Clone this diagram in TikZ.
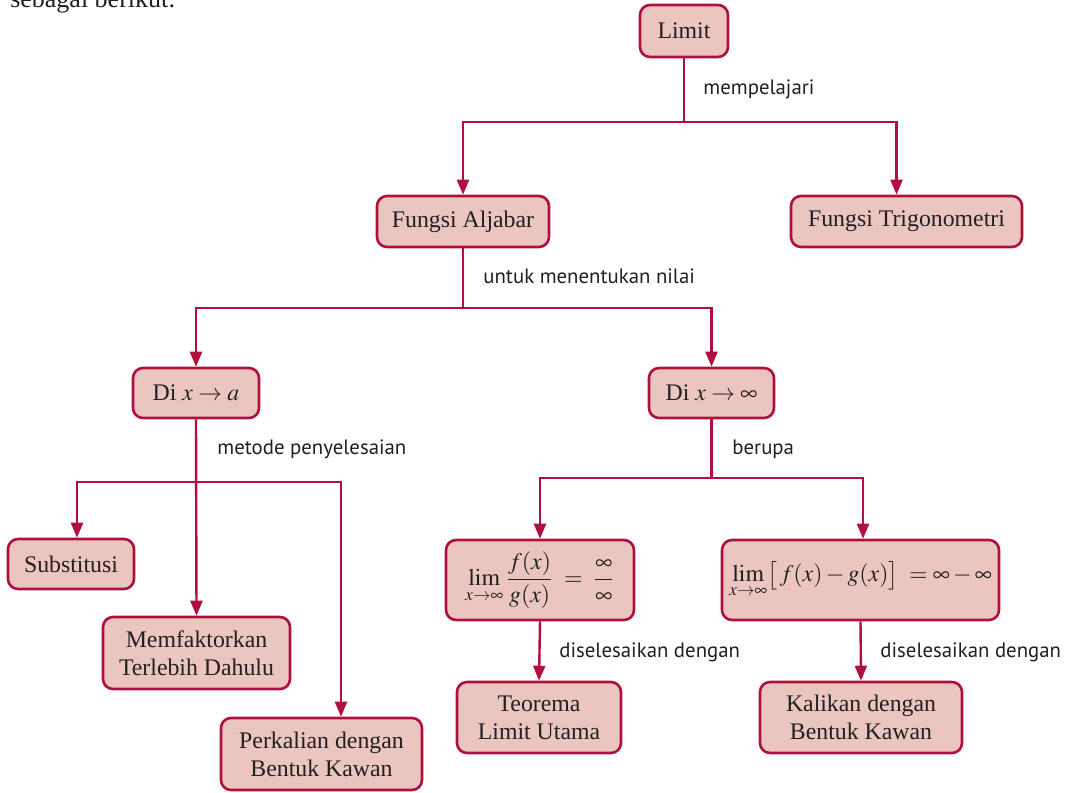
\documentclass[tikz,border=0pt]{standalone}
\usepackage{mathptmx}
\usepackage{fontspec}
\setmainfont{Liberation Serif}
\newfontfamily\lblfont{PT Sans}
\usetikzlibrary{arrows.meta}

\definecolor{crim}{HTML}{B0103E}
\definecolor{boxfill}{HTML}{EBC6C0}
\definecolor{ink}{HTML}{231F20}

\begin{document}
\begin{tikzpicture}[
    x=0.5pt, y=-0.5pt,
    every node/.style={text=ink},
    box/.style={draw=crim, fill=boxfill, line width=1.3pt, rounded corners=5pt,
        align=center, inner sep=0pt, font=\fontsize{11.9}{14}\selectfont},
    lbl/.style={anchor=base west, inner sep=0pt, font=\lblfont\fontsize{10.4}{12}\selectfont},
    link/.style={draw=crim, line width=1.2pt},
    arr/.style={link, -{Triangle[length=7.5pt,width=6pt]}},
]

% === frame (page is cut at the top) ===
\clip (0,0) rectangle (1069,792);
\node[anchor=base east, inner sep=0pt, font=\fontsize{13}{15}\selectfont] (intro) at (176,8) {sebagai berikut:};

% === boxes ===
\node[box, minimum width=44pt, minimum height=26pt] (limit) at (684,31) {Limit};
\node[box, minimum width=86pt, minimum height=25.5pt] (aljabar) at (463,221.5) {Fungsi Aljabar};
\node[box, minimum width=115.5pt, minimum height=25.5pt] (trig) at (906.5,221.5) {Fungsi Trigonometri};

\node[box, minimum width=63pt, minimum height=25pt] (dia) at (196,393) {Di $x\rightarrow a$};
\node[box, minimum width=62.5pt, minimum height=25pt] (dinf) at (711.5,393) {Di $x\rightarrow\infty$};

\node[box, minimum width=63pt, minimum height=25pt] (subs) at (71,564) {Substitusi};
\node[box, minimum width=93.5pt, minimum height=36pt] (memf) at (196.5,653) {Memfaktorkan\\Terlebih Dahulu};
\node[box, minimum width=100.5pt, minimum height=36pt] (perk) at (321.5,754) {Perkalian dengan\\Bentuk Kawan};

\node[box, minimum width=94pt, minimum height=40pt] (lim1) at (540,580)
    {$\displaystyle\lim_{x\to\infty}\frac{f(x)}{g(x)}\;=\;\frac{\infty}{\infty}$};
\node[box, minimum width=138.5pt, minimum height=40pt] (lim2) at (860.5,580)
    {$\displaystyle\lim_{x\to\infty}\bigl[\,f(x)-g(x)\bigr]\;=\infty-\infty$};

\node[box, minimum width=82pt, minimum height=35.5pt] (teo) at (539,717.5) {Teorema\\Limit Utama};
\node[box, minimum width=101pt, minimum height=35.5pt] (kali) at (861,717.5) {Kalikan dengan\\Bentuk Kawan};

% === branch points ===
\coordinate (j1) at (684,122);
\coordinate (j2) at (463,308);
\coordinate (j3) at (196,482);
\coordinate (j4) at (dinf.south |- 0,478);

% === connectors ===
\draw[link] (limit.south) -- (j1);
\draw[arr] (j1) -| (aljabar.north);
\draw[arr] (j1) -| ([xshift=-5pt]trig.north);

\draw[link] (aljabar.south) -- (j2);
\draw[arr] (j2) -| (dia.north);
\draw[arr] (j2) -| (dinf.north);

\draw[arr] (dia.south) -- (memf.north);
\draw[arr] (j3) -| ([xshift=3pt]subs.north);
\draw[arr] (j3) -| ([xshift=9.75pt]perk.north);

\draw[link] (dinf.south) -- (j4);
\draw[arr] (j4) -| (lim1.north);
\draw[arr] (j4) -| ([xshift=1.25pt]lim2.north);

\draw[arr] (lim1.south) -- (teo.north);
\draw[arr] (lim2.south) -- (kali.north);

% === connector labels ===
\node[lbl] (l1) at (703,95) {mempelajari};
\node[lbl] (l2) at (483,283) {untuk menentukan nilai};
\node[lbl] (l3) at (217,454) {metode penyelesaian};
\node[lbl] (l4) at (732,454) {berupa};
\node[lbl] (l5) at (559,657) {diselesaikan dengan};
\node[lbl] (l6) at (880,657) {diselesaikan dengan};

\end{tikzpicture}
\end{document}
